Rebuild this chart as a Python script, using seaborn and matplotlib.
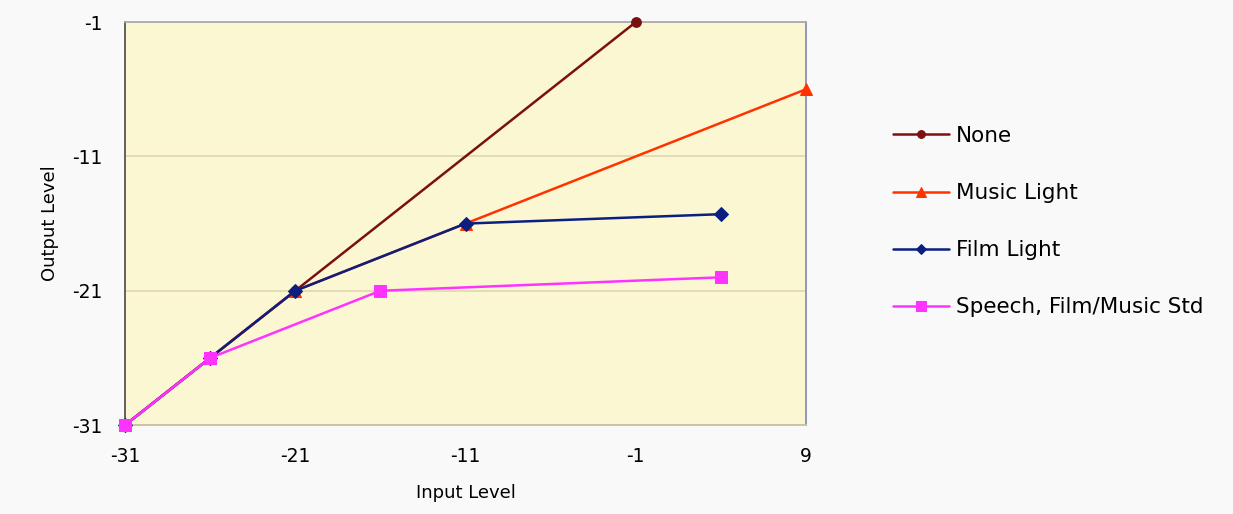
import pandas as pd
import matplotlib.pyplot as plt
import seaborn as sns

# Compressor curves
series = ["None", "Music Light", "Film Light", "Speech, Film/Music Std"]
none_in = [-31, -26, -21, -1]
none_out = [-31, -26, -21, -1]
music_in = [-31, -26, -21, -11, 9]
music_out = [-31, -26, -21, -16, -6]
film_in = [-31, -26, -21, -11, 4]
film_out = [-31, -26, -21, -16, -15.3]
speech_in = [-31, -26, -16, 4]
speech_out = [-31, -26, -21, -20]

x_ticks = [-31, -21, -11, -1, 9]
y_ticks = [-31, -21, -11, -1]


def build_frame():
    rows = []
    for name, xs, ys in zip(series,
                            [none_in, music_in, film_in, speech_in],
                            [none_out, music_out, film_out, speech_out]):
        for order, (x, y) in enumerate(zip(xs, ys)):
            rows.append({"series": name, "input": x, "output": y, "order": order})
    return pd.DataFrame(rows)


def plot_curves():
    df = build_frame()

    sns.set_style("white", {"text.color": "black", "axes.labelcolor": "black",
                            "xtick.color": "black", "ytick.color": "black"})
    plt.rcParams['font.family'] = ['DejaVu Sans']
    plt.rcParams['axes.unicode_minus'] = False

    fig = plt.figure(figsize=(12.33, 5.14), dpi=100, facecolor='#f9f9f9')
    ax = fig.add_axes([0.1014, 0.173, 0.5523, 0.784])
    ax.set_facecolor('#fbf7d3')

    palette = {"None": "#7a1010", "Music Light": "#ff3300",
               "Film Light": "#0a1f80", "Speech, Film/Music Std": "#ff33ff"}
    markers = {"None": "o", "Music Light": "^",
               "Film Light": "D", "Speech, Film/Music Std": "s"}
    sizes = {"None": 7, "Music Light": 9, "Film Light": 7, "Speech, Film/Music Std": 9}

    for name in series:
        sub = df[df["series"] == name]
        sns.lineplot(data=sub, x="input", y="output", sort=False, ax=ax,
                     color=palette[name], marker=markers[name],
                     markersize=sizes[name], markeredgecolor=palette[name],
                     linewidth=1.8, label=name, clip_on=False, zorder=3)

    ax.set_xlim(-31, 9)
    ax.set_ylim(-31, -1)
    ax.set_xticks(x_ticks)
    ax.set_yticks(y_ticks)
    ax.tick_params(labelsize=13.5, length=0, pad=16, colors='black')
    for side, col in [("left", "#555555"), ("top", "#aaaaaa"),
                      ("right", "#8890b0"), ("bottom", "#c8c0a0")]:
        ax.spines[side].set_visible(True)
        ax.spines[side].set_color(col)
        ax.spines[side].set_linewidth(1.3)

    ax.yaxis.grid(True, color='#ddd8b0', linewidth=1.2)
    ax.set_axisbelow(True)
    ax.set_xlabel("Input Level", fontsize=13, labelpad=13, color='black')
    ax.set_ylabel("Output Level", fontsize=13, labelpad=10, color='black')

    ax.legend(loc='center left', bbox_to_anchor=(1.1, 0.505), frameon=False,
              fontsize=15.5, labelspacing=1.72, handlelength=2.6,
              handletextpad=0.3, markerscale=0.8, labelcolor='black')

    fig.savefig("out.png", dpi=100, facecolor=fig.get_facecolor())


if __name__ == "__main__":
    plot_curves()
